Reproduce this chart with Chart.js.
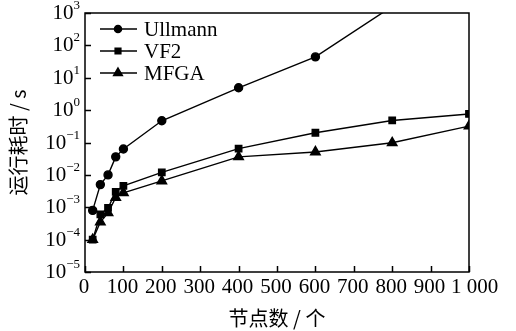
<!DOCTYPE html>
<html>
<head>
<meta charset="utf-8">
<script src="https://cdn.jsdelivr.net/npm/chart.js@4"></script>
<style>
  html, body { margin: 0; padding: 0; background: #fff; }
  #wrap { width: 516px; height: 331px; }
</style>
</head>
<body>
<div id="wrap"><canvas id="myChart"></canvas></div>
<script>
// values (seconds, log scale)
const nodesUllmann = [20, 40, 60, 80, 100, 200, 400, 600, 800];
const timeUllmann = [8e-4, 5e-3, 1e-2, 0.036, 0.063, 0.47, 4.9, 44, 1600];
const nodesVF2 = [20, 40, 60, 80, 100, 200, 400, 600, 800, 1000];
const timeVF2 = [1e-4, 6e-4, 9.5e-4, 3e-3, 4.6e-3, 0.012, 0.065, 0.2, 0.48, 0.76];
const nodesMFGA = [20, 40, 60, 80, 100, 200, 400, 600, 800, 1000];
const timeMFGA = [1e-4, 3.5e-4, 6.7e-4, 2e-3, 2.8e-3, 6.5e-3, 0.036, 0.051, 0.098, 0.32];
const seriesNames = ['Ullmann', 'VF2', 'MFGA'];
const yTicks = [1e-5, 1e-4, 1e-3, 1e-2, 1e-1, 1, 10, 100, 1000];

const serif = '"Liberation Serif", "Times New Roman", serif';

function pts(xs, ys) {
  return xs.map((x, i) => ({ x: x, y: ys[i] }));
}

// inward ticks, frame, tick labels and the line+marker legend
const decorate = {
  id: 'decorate',
  afterDatasetsDraw(chart) {
    const ctx = chart.ctx;
    const a = chart.chartArea;
    const xs = chart.scales.x, ys = chart.scales.y;
    ctx.save();
    ctx.strokeStyle = '#000';
    ctx.lineWidth = 1.5;
    ctx.strokeRect(a.left, a.top, a.right - a.left, a.bottom - a.top);
    ctx.beginPath();
    xs.ticks.forEach(t => {
      const px = Math.round(xs.getPixelForValue(t.value)) + 0.5;
      ctx.moveTo(px, a.bottom);
      ctx.lineTo(px, a.bottom - 6);
    });
    yTicks.forEach(v => {
      const py = Math.round(ys.getPixelForValue(v)) + 0.5;
      ctx.moveTo(a.left, py);
      ctx.lineTo(a.left + 6, py);
    });
    ctx.stroke();

    ctx.fillStyle = '#000';
    ctx.textBaseline = 'alphabetic';
    ctx.textAlign = 'left';

    // x tick labels; "1 000" sits a little right like the original
    ctx.font = '21px ' + serif;
    xs.ticks.forEach(t => {
      const px = xs.getPixelForValue(t.value);
      const plain = String(t.value);
      const w = ctx.measureText(plain).width;
      if (t.value === 1000) {
        ctx.fillText('1 000', px - w / 2 + 3, a.bottom + 21);
      } else {
        ctx.fillText(plain, px - w / 2 - 1, a.bottom + 21);
      }
    });

    // y tick labels as 10 with a raised exponent
    ctx.textAlign = 'right';
    yTicks.forEach(v => {
      const py = ys.getPixelForValue(v);
      const e = String(Math.round(Math.log10(v))).replace('-', '\u2212');
      ctx.font = '13px ' + serif;
      const ew = ctx.measureText(e).width;
      const right = a.left - 5;
      ctx.fillText(e, right, py - 4);
      ctx.font = '21px ' + serif;
      ctx.fillText('10', right - ew, py + 6);
    });

    // legend
    ctx.textAlign = 'left';
    ctx.font = '21px ' + serif;
    ctx.textBaseline = 'middle';
    chart.data.datasets.forEach((ds, i) => {
      const y = a.top + 16 + i * 22;
      const x0 = a.left + 15;
      ctx.beginPath();
      ctx.moveTo(x0, y);
      ctx.lineTo(x0 + 37, y);
      ctx.lineWidth = 1.5;
      ctx.stroke();
      Chart.helpers.drawPoint(ctx, {
        pointStyle: ds.pointStyle, radius: ds.pointRadius - 0.5, rotation: 0, borderWidth: 1
      }, x0 + 18, y);
      ctx.fillText(ds.label, x0 + 44, y + 1);
    });
    ctx.restore();
  }
};

const common = {
  borderColor: '#000',
  backgroundColor: '#000',
  pointBackgroundColor: '#000',
  pointBorderColor: '#000',
  borderWidth: 1.4,
  tension: 0
};

new Chart(document.getElementById('myChart'), {
  type: 'line',
  data: {
    datasets: [
      Object.assign({ label: seriesNames[0], data: pts(nodesUllmann, timeUllmann), pointStyle: 'circle', pointRadius: 4 }, common),
      Object.assign({ label: seriesNames[1], data: pts(nodesVF2, timeVF2), pointStyle: 'rect', pointRadius: 4.5 }, common),
      Object.assign({ label: seriesNames[2], data: pts(nodesMFGA, timeMFGA), pointStyle: 'triangle', pointRadius: 5.5 }, common)
    ]
  },
  options: {
    responsive: true,
    maintainAspectRatio: false,
    animation: false,
    layout: { padding: { top: 13, right: 47, left: 0, bottom: 0 } },
    plugins: { legend: { display: false }, tooltip: { enabled: false } },
    scales: {
      x: {
        type: 'linear',
        min: 0, max: 1000,
        grid: { display: false, drawTicks: false },
        border: { display: false },
        ticks: { stepSize: 100, autoSkip: false, display: false },
        title: {
          display: true,
          text: '节点数 / 个',
          color: '#000',
          font: { family: '"Noto Sans CJK SC"', size: 20 },
          padding: { top: 0, bottom: 1 }
        },
        afterFit: s => { s.height = 59; }
      },
      y: {
        type: 'logarithmic',
        min: 1e-5, max: 1e3,
        grid: { display: false, drawTicks: false },
        border: { display: false },
        afterBuildTicks: s => { s.ticks = yTicks.map(v => ({ value: v })); },
        ticks: { display: false },
        title: {
          display: true,
          text: '运行耗时 / s',
          color: '#000',
          font: { family: '"Noto Sans CJK SC"', size: 20 },
          padding: { top: 6, bottom: 0 }
        },
        afterFit: s => { s.width = 85; }
      }
    }
  },
  plugins: [decorate]
});
</script>
</body>
</html>
